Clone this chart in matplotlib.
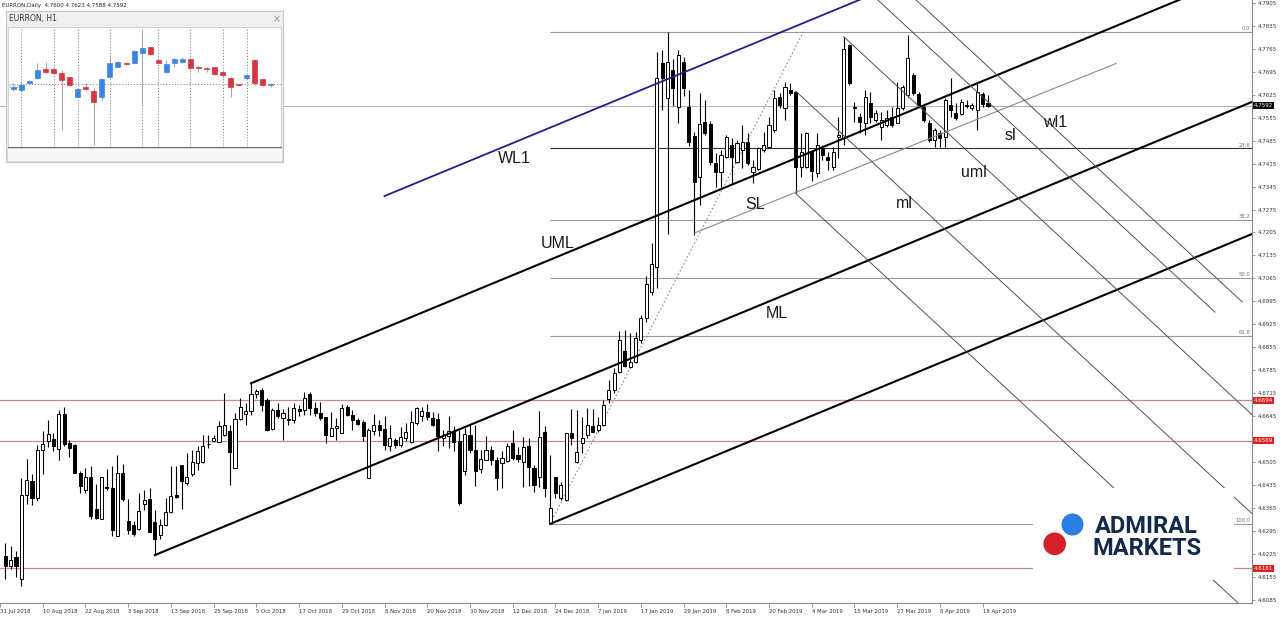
import numpy as np
import matplotlib.pyplot as plt
import matplotlib.transforms as mtransforms
from matplotlib.patches import Circle, Rectangle

# EURRON daily candles, bar 1 = 1 Aug 2018 (bar 0 = 31 Jul 2018)
opens = [
    4.6218, 4.6188, 4.6216, 4.6149, 4.6403, 4.6446, 4.6396, 4.6543, 4.6570, 4.6575,
    4.6545, 4.6652, 4.6563, 4.6558, 4.6472, 4.6421, 4.6459, 4.6362, 4.6332, 4.6429,
    4.6426, 4.6279, 4.6470, 4.6325, 4.6314, 4.6302, 4.6378, 4.6391, 4.6322, 4.6282,
    4.6312, 4.6352, 4.6403, 4.6495, 4.6441, 4.6467, 4.6502, 4.6504, 4.6559, 4.6568,
    4.6565, 4.6588, 4.6601, 4.6487, 4.6636, 4.6652, 4.6662, 4.6712, 4.6725, 4.6695,
    4.6605, 4.6664, 4.6639, 4.6637, 4.6634, 4.6666, 4.6664, 4.6713, 4.6669, 4.6654,
    4.6641, 4.6585, 4.6609, 4.6593, 4.6674, 4.6649, 4.6634, 4.6626, 4.6456, 4.6598,
    4.6619, 4.6605, 4.6553, 4.6573, 4.6558, 4.6578, 4.6565, 4.6624, 4.6644, 4.6656,
    4.6639, 4.6636, 4.6578, 4.6583, 4.6601, 4.6568, 4.6477, 4.6588, 4.6541, 4.6484,
    4.6512, 4.6541, 4.6510, 4.6501, 4.6509, 4.6562, 4.6526, 4.6506, 4.6554, 4.6486,
    4.6460, 4.6597, 4.6318, 4.6460, 4.6394, 4.6389, 4.6594, 4.6506, 4.6562, 4.6587,
    4.6615, 4.6602, 4.6618, 4.6696, 4.6724, 4.6780, 4.6844, 4.6796, 4.6811, 4.6877,
    4.6943, 4.7024, 4.7101, 4.7723, 4.7614, 4.7701, 4.7589, 4.7726, 4.7589, 4.7499,
    4.7375, 4.7543, 4.7536, 4.7418, 4.7390, 4.7436, 4.7472, 4.7421, 4.7456, 4.7482,
    4.7390, 4.7398, 4.7456, 4.7467, 4.7517, 4.7619, 4.7584, 4.7640, 4.7634, 4.7406,
    4.7406, 4.7451, 4.7385, 4.7462, 4.7436, 4.7406, 4.7497, 4.7492, 4.7777, 4.7584,
    4.7558, 4.7538, 4.7599, 4.7548, 4.7526, 4.7533, 4.7558, 4.7538, 4.7584, 4.7624,
    4.7685, 4.7627, 4.7589, 4.7540, 4.7487, 4.7507, 4.7497, 4.7594, 4.7568, 4.7566,
    4.7591, 4.7584, 4.7579, 4.7627, 4.7600,
]
highs = [
    4.6259, 4.6249, 4.6233, 4.6456, 4.6514, 4.6467, 4.6558, 4.6601, 4.6632, 4.6593,
    4.6664, 4.6672, 4.6571, 4.6561, 4.6477, 4.6487, 4.6492, 4.6439, 4.6459, 4.6484,
    4.6494, 4.6527, 4.6500, 4.6393, 4.6325, 4.6411, 4.6419, 4.6426, 4.6360, 4.6330,
    4.6396, 4.6492, 4.6492, 4.6497, 4.6533, 4.6543, 4.6553, 4.6588, 4.6588, 4.6588,
    4.6629, 4.6715, 4.6619, 4.6654, 4.6700, 4.6685, 4.6745, 4.6728, 4.6730, 4.6700,
    4.6669, 4.6685, 4.6666, 4.6674, 4.6685, 4.6680, 4.6717, 4.6717, 4.6687, 4.6687,
    4.6641, 4.6656, 4.6639, 4.6683, 4.6680, 4.6664, 4.6639, 4.6634, 4.6609, 4.6652,
    4.6634, 4.6644, 4.6619, 4.6578, 4.6612, 4.6624, 4.6659, 4.6674, 4.6672, 4.6683,
    4.6656, 4.6654, 4.6603, 4.6644, 4.6614, 4.6603, 4.6609, 4.6619, 4.6619, 4.6543,
    4.6583, 4.6553, 4.6521, 4.6539, 4.6564, 4.6602, 4.6552, 4.6580, 4.6577, 4.6496,
    4.6661, 4.6615, 4.6526, 4.6460, 4.6445, 4.6594, 4.6666, 4.6664, 4.6643, 4.6669,
    4.6666, 4.6643, 4.6694, 4.6755, 4.6791, 4.6905, 4.6908, 4.6899, 4.6902, 4.6953,
    4.7072, 4.7172, 4.7756, 4.7760, 4.7817, 4.7735, 4.7761, 4.7740, 4.7640, 4.7510,
    4.7629, 4.7609, 4.7546, 4.7446, 4.7456, 4.7502, 4.7492, 4.7487, 4.7533, 4.7507,
    4.7426, 4.7467, 4.7512, 4.7558, 4.7640, 4.7629, 4.7665, 4.7660, 4.7636, 4.7507,
    4.7512, 4.7451, 4.7507, 4.7472, 4.7451, 4.7467, 4.7558, 4.7802, 4.7780, 4.7604,
    4.7568, 4.7640, 4.7634, 4.7578, 4.7573, 4.7578, 4.7589, 4.7665, 4.7655, 4.7807,
    4.7690, 4.7634, 4.7594, 4.7548, 4.7523, 4.7517, 4.7614, 4.7675, 4.7599, 4.7611,
    4.7609, 4.7601, 4.7664, 4.7632, 4.7623,
]
lows = [
    4.6149, 4.6178, 4.6155, 4.6127, 4.6378, 4.6375, 4.6385, 4.6467, 4.6551, 4.6538,
    4.6510, 4.6555, 4.6520, 4.6470, 4.6409, 4.6409, 4.6330, 4.6330, 4.6332, 4.6419,
    4.6279, 4.6279, 4.6385, 4.6284, 4.6279, 4.6299, 4.6360, 4.6291, 4.6221, 4.6269,
    4.6309, 4.6348, 4.6396, 4.6362, 4.6436, 4.6462, 4.6482, 4.6502, 4.6548, 4.6565,
    4.6565, 4.6583, 4.6436, 4.6487, 4.6634, 4.6619, 4.6649, 4.6700, 4.6659, 4.6601,
    4.6603, 4.6639, 4.6571, 4.6619, 4.6624, 4.6644, 4.6649, 4.6649, 4.6644, 4.6634,
    4.6563, 4.6583, 4.6571, 4.6593, 4.6644, 4.6603, 4.6619, 4.6568, 4.6456, 4.6588,
    4.6583, 4.6543, 4.6538, 4.6548, 4.6551, 4.6568, 4.6563, 4.6619, 4.6629, 4.6634,
    4.6614, 4.6538, 4.6553, 4.6548, 4.6538, 4.6375, 4.6464, 4.6533, 4.6433, 4.6472,
    4.6510, 4.6497, 4.6419, 4.6425, 4.6505, 4.6511, 4.6506, 4.6430, 4.6432, 4.6414,
    4.6430, 4.6399, 4.6316, 4.6394, 4.6389, 4.6387, 4.6557, 4.6503, 4.6531, 4.6577,
    4.6594, 4.6597, 4.6615, 4.6684, 4.6714, 4.6775, 4.6794, 4.6791, 4.6806, 4.6867,
    4.6933, 4.7014, 4.7035, 4.7578, 4.7200, 4.7590, 4.7538, 4.7620, 4.7470, 4.7197,
    4.7289, 4.7502, 4.7410, 4.7345, 4.7345, 4.7431, 4.7355, 4.7416, 4.7401, 4.7411,
    4.7355, 4.7395, 4.7451, 4.7462, 4.7512, 4.7584, 4.7548, 4.7625, 4.7324, 4.7375,
    4.7401, 4.7363, 4.7375, 4.7426, 4.7395, 4.7395, 4.7431, 4.7472, 4.7655, 4.7543,
    4.7507, 4.7502, 4.7538, 4.7543, 4.7487, 4.7528, 4.7528, 4.7538, 4.7579, 4.7619,
    4.7624, 4.7589, 4.7543, 4.7482, 4.7467, 4.7467, 4.7467, 4.7558, 4.7548, 4.7563,
    4.7584, 4.7579, 4.7518, 4.7589, 4.7588,
]
closes = [
    4.6188, 4.6206, 4.6188, 4.6403, 4.6449, 4.6396, 4.6543, 4.6561, 4.6590, 4.6553,
    4.6652, 4.6561, 4.6548, 4.6472, 4.6431, 4.6459, 4.6340, 4.6335, 4.6459, 4.6427,
    4.6299, 4.6472, 4.6391, 4.6299, 4.6284, 4.6355, 4.6388, 4.6292, 4.6269, 4.6312,
    4.6353, 4.6401, 4.6398, 4.6446, 4.6459, 4.6504, 4.6538, 4.6555, 4.6561, 4.6578,
    4.6614, 4.6619, 4.6535, 4.6636, 4.6674, 4.6661, 4.6713, 4.6722, 4.6680, 4.6603,
    4.6664, 4.6644, 4.6654, 4.6634, 4.6669, 4.6659, 4.6700, 4.6669, 4.6654, 4.6639,
    4.6588, 4.6609, 4.6616, 4.6669, 4.6649, 4.6634, 4.6622, 4.6583, 4.6603, 4.6619,
    4.6603, 4.6558, 4.6578, 4.6558, 4.6581, 4.6595, 4.6626, 4.6669, 4.6659, 4.6642,
    4.6619, 4.6585, 4.6588, 4.6598, 4.6565, 4.6380, 4.6591, 4.6541, 4.6477, 4.6514,
    4.6543, 4.6510, 4.6455, 4.6516, 4.6554, 4.6516, 4.6513, 4.6550, 4.6491, 4.6435,
    4.6582, 4.6425, 4.6364, 4.6409, 4.6435, 4.6592, 4.6577, 4.6536, 4.6577, 4.6618,
    4.6597, 4.6618, 4.6679, 4.6724, 4.6775, 4.6877, 4.6798, 4.6811, 4.6882, 4.6943,
    4.7048, 4.7109, 4.7675, 4.7675, 4.7726, 4.7645, 4.7746, 4.7645, 4.7482, 4.7360,
    4.7536, 4.7507, 4.7421, 4.7390, 4.7441, 4.7495, 4.7436, 4.7479, 4.7482, 4.7416,
    4.7406, 4.7462, 4.7472, 4.7533, 4.7614, 4.7594, 4.7650, 4.7631, 4.7406, 4.7451,
    4.7509, 4.7393, 4.7472, 4.7441, 4.7426, 4.7451, 4.7502, 4.7764, 4.7660, 4.7587,
    4.7543, 4.7619, 4.7558, 4.7570, 4.7548, 4.7553, 4.7533, 4.7584, 4.7650, 4.7736,
    4.7629, 4.7594, 4.7548, 4.7487, 4.7517, 4.7492, 4.7609, 4.7579, 4.7553, 4.7604,
    4.7594, 4.7594, 4.7633, 4.7597, 4.7592,
]
first_bar = 1

date_labels = ["31 Jul 2018", "10 Aug 2018", "22 Aug 2018", "3 Sep 2018", "13 Sep 2018",
               "25 Sep 2018", "5 Oct 2018", "17 Oct 2018", "29 Oct 2018", "8 Nov 2018",
               "20 Nov 2018", "30 Nov 2018", "12 Dec 2018", "24 Dec 2018", "7 Jan 2019",
               "17 Jan 2019", "29 Jan 2019", "8 Feb 2019", "20 Feb 2019", "4 Mar 2019",
               "15 Mar 2019", "27 Mar 2019", "8 Apr 2019", "18 Apr 2019"]
label_step = 8

price_ticks = np.round(np.arange(4.6085, 4.7906, 0.007), 4)
red_levels = [4.6694, 4.6569, 4.6181]

# fibonacci retracement
fib_low, fib_high = 4.6316, 4.7816
fib_ratios = [0.0, 23.6, 38.2, 50.0, 61.8, 100.0]
fib_bar_start, fib_bar_end = 103, 150.4

# andrews pitchfork pivots (bar, price)
pf_bars = [29, 47, 103]
pf_prices = [4.6221, 4.6745, 4.6316]
wl1_start = 72
sl_bar, sl_price, sl_slope, sl_end = 130, 4.7203, 0.000655, 209

# descending lines (start bar, start price, end bar)
desc_slope = -0.001508
desc_start_bars = [149, 149, 158, 160, 160]
desc_start_prices = [4.7636, 4.7324, 4.7802, 4.7980, 4.8088]
desc_end_bars = [236, 236, 236, 227.5, 232.6]

# H1 inset window
h1_open = [4.75854, 4.7585, 4.7589, 4.7592, 4.75976, 4.75974, 4.75954, 4.75926, 4.7581, 4.75866,
           4.75846, 4.75806, 4.75926, 4.7599, 4.76014, 4.76014, 4.76074, 4.76106, 4.7603, 4.7596,
           4.76014, 4.76018, 4.76034, 4.7599, 4.75982, 4.75986, 4.7596, 4.7592, 4.75886, 4.75922,
           4.7603, 4.75914, 4.75882]
h1_high = [4.7589, 4.7590, 4.7591, 4.76014, 4.7602, 4.7599, 4.7597, 4.75926, 4.75858, 4.7589,
           4.7586, 4.7592, 4.7606, 4.76024, 4.76018, 4.7609, 4.7621, 4.7611, 4.76034, 4.7603,
           4.7604, 4.76046, 4.7604, 4.7600, 4.7599, 4.7599, 4.7597, 4.75926, 4.75886, 4.75942,
           4.76034, 4.75918, 4.7589]
h1_low = [4.75846, 4.75846, 4.75886, 4.75914, 4.7595, 4.7594, 4.7561, 4.75874, 4.75806, 4.75846,
          4.7552, 4.7579, 4.7592, 4.75986, 4.7600, 4.7601, 4.7576, 4.7606, 4.7601, 4.75954,
          4.7599, 4.7601, 4.75974, 4.7596, 4.7596, 4.7594, 4.75926, 4.7581, 4.75874, 4.75918,
          4.7588, 4.75874, 4.75866]
h1_close = [4.75866, 4.7588, 4.75906, 4.7597, 4.7596, 4.7595, 4.7591, 4.75878, 4.75854, 4.75854,
            4.7578, 4.75916, 4.76014, 4.7602, 4.76004, 4.76086, 4.7610, 4.76066, 4.76014, 4.76006,
            4.76034, 4.76034, 4.7598, 4.75984, 4.75974, 4.75946, 4.7594, 4.75866, 4.75878, 4.75938,
            4.7589, 4.75878, 4.75886]
h1_separators = [1, 5, 8, 12, 16, 18, 22, 26, 29]

W, H = 1280, 617
fig = plt.figure(figsize=(W / 100, H / 100), dpi=100)


def px_box(x0, y0, x1, y1):
    # pixel box (origin top-left) -> figure fraction rect
    return [x0 / W, 1 - y1 / H, (x1 - x0) / W, (y1 - y0) / H]


ax = fig.add_axes(px_box(0, 0, 1252, 603))
ax.set_xlim(0.206, 234.44)
ax.set_ylim(4.60749, 4.79140)

# horizontal levels
for lv in red_levels:
    ax.axhline(lv, color="#c98c8c", lw=0.9, zorder=1)
ax.axhline(closes[-1], color="#b4b4b4", lw=0.8, zorder=1)

yright = mtransforms.blended_transform_factory(ax.transAxes, ax.transData)
for r in fib_ratios:
    lvl = fib_high - r / 100 * (fib_high - fib_low)
    col = "#303030" if r == 23.6 else "#9a9a9a"
    ax.hlines(lvl, fib_bar_start, 240, color=col, lw=0.8, zorder=1.5)
    ax.text(0.9985, lvl + 0.0002, f"{r:.1f}", transform=yright, ha="right", va="bottom",
            fontsize=3.8, color="#707070")
ax.plot([fib_bar_start, fib_bar_end], [fib_low, fib_high], color="#8a8a8a", lw=0.8,
        ls=(0, (1.5, 2)), zorder=1.5)

# candles
x = np.arange(len(opens)) + first_bar
o, h, l, c = map(np.array, (opens, highs, lows, closes))
up = c >= o
ax.vlines(x, l, h, color="black", lw=0.8, zorder=3)
ax.bar(x, np.maximum(np.abs(c - o), 0.00004), 0.58, bottom=np.minimum(o, c),
       color=np.where(up, "white", "black"), edgecolor="black", linewidth=0.7, zorder=4)

# pitchfork
xe = 240
mid_bar = (pf_bars[1] + pf_bars[2]) / 2
mid_price = (pf_prices[1] + pf_prices[2]) / 2
slope = (mid_price - pf_prices[0]) / (mid_bar - pf_bars[0])
for b, p in zip(pf_bars, pf_prices):
    ax.plot([b, xe], [p, p + slope * (xe - b)], color="black", lw=1.5, zorder=5)
fork_width = pf_prices[1] - (pf_prices[0] + slope * (pf_bars[1] - pf_bars[0]))
wl_p = pf_prices[1] + slope * (wl1_start - pf_bars[1]) + fork_width
ax.plot([wl1_start, xe], [wl_p, wl_p + slope * (xe - wl1_start)], color="#20208c", lw=1.3, zorder=5)
ax.plot([sl_bar, sl_end], [sl_price, sl_price + sl_slope * (sl_end - sl_bar)],
        color="#8c8c8c", lw=0.8, zorder=5)

for b0, p0, b1 in zip(desc_start_bars, desc_start_prices, desc_end_bars):
    ax.plot([b0, b1], [p0, p0 + desc_slope * (b1 - b0)], color="#505050", lw=0.7, zorder=5)

lab = dict(fontsize=11.5, family="Liberation Sans", color="#1a1a1a", ha="left", va="baseline", zorder=6)
ax.text(93.2, 4.7417, "WL1", **lab)
ax.text(101.2, 4.7158, "UML", **lab)
ax.text(143.3, 4.6944, "ML", **lab)
ax.text(139.6, 4.7277, "SL", **lab)
ax.text(167.7, 4.7280, "ml", **lab)
ax.text(180.0, 4.7374, "uml", **lab)
ax.text(188.2, 4.7487, "sl", **lab)
ax.text(195.3, 4.7527, "wl1", **lab)

# axes look
for s in ["top", "left"]:
    ax.spines[s].set_visible(False)
for s in ["right", "bottom"]:
    ax.spines[s].set_color("#8a8a8a")
    ax.spines[s].set_linewidth(0.8)
ax.yaxis.tick_right()
ax.set_yticks(price_ticks)
boxed = red_levels + [closes[-1]]
# tick labels hidden behind a price box are left out
ax.set_yticklabels(["" if min(abs(v - b) for b in boxed) < 0.001 else f"{v:.4f}" for v in price_ticks])
ax.tick_params(axis="y", direction="out", length=2.5, width=0.6, colors="#8a8a8a",
               labelcolor="#333333", labelsize=4, pad=1.5)
ax.set_xticks(np.arange(len(date_labels)) * label_step)
ax.set_xticklabels(date_labels, ha="left")
ax.tick_params(axis="x", direction="out", length=3, width=0.6, colors="#8a8a8a",
               labelcolor="#333333", labelsize=3.9, pad=1.2)

box_kw = dict(transform=yright, ha="left", va="center", fontsize=4, color="white",
              clip_on=False, zorder=10)
for lv in red_levels:
    ax.text(1.0015, lv, f"{lv:.4f}", bbox=dict(boxstyle="square,pad=0.18", fc="#e0201e", ec="none"), **box_kw)
ax.text(1.0015, closes[-1], f"{closes[-1]:.4f}", bbox=dict(boxstyle="square,pad=0.18", fc="black", ec="none"), **box_kw)

fig.text(2 / W, 1 - 5 / H, f"EURRON,Daily  {opens[-1]:.4f} {highs[-1]:.4f} {lows[-1]:.4f} {closes[-1]:.4f}",
         fontsize=4, va="center", ha="left", color="#222222")

# inset H1 window
frame = fig.add_axes(px_box(6, 11, 283, 162), zorder=5)
frame.set_facecolor("#f0f0f0")
frame.set_xlim(0, 277)
frame.set_ylim(151, 0)
frame.set_xticks([])
frame.set_yticks([])
for s in frame.spines.values():
    s.set_color("#c8c8c8")
frame.add_patch(Rectangle((1, 137), 275, 13, fc="#f8f8f8", ec="#d8d8d8", lw=0.6))
frame.text(3, 8, "EURRON, H1", fontsize=5.5, color="#333333", va="center", ha="left")
frame.text(271, 8, "\u00d7", fontsize=7, color="#9a9a9a", va="center", ha="center")

inset = fig.add_axes(px_box(8, 27, 281, 147), zorder=6)
inset.set_facecolor("white")
inset.set_xlim(-0.66, 33.25)
inset.set_ylim(4.75508, 4.76228)
inset.set_xticks([])
inset.set_yticks([])
for s in ["top", "left", "right"]:
    inset.spines[s].set_color("#d4d4d4")
inset.spines["bottom"].set_color("#707070")
inset.vlines(h1_separators, 4.75508, 4.76228, color="#8a8a8a", lw=0.7, ls=(0, (1.2, 1.8)))
inset.axhline(h1_close[-1], color="#8a8a8a", lw=0.7, ls=(0, (1.2, 1.8)))
inset.text(-0.5, h1_close[-1] - 0.00003, f"{h1_close[-1]:.4f}", fontsize=3, color="#a8a8a8", va="top")
xi = np.arange(len(h1_open))
io, ih, il, ic = map(np.array, (h1_open, h1_high, h1_low, h1_close))
iup = ic >= io
inset.vlines(xi, il, ih, color="#a8a8a8", lw=0.8, zorder=2)
icol = np.where(iup, "#3a86e8", "#d9343f")
inset.bar(xi, np.maximum(np.abs(ic - io), 0.00002), 0.62, bottom=np.minimum(io, ic),
          color=icol, edgecolor=icol, linewidth=0.5, zorder=3)

# logo
logo = fig.add_axes(px_box(1033, 488, 1234, 580), zorder=5)
logo.set_facecolor("white")
logo.set_xlim(0, 201)
logo.set_ylim(92, 0)
logo.set_xticks([])
logo.set_yticks([])
for s in logo.spines.values():
    s.set_visible(False)
logo.add_patch(Circle((39.5, 36.5), 11, fc="#2b7fe2", ec="none"))
logo.add_patch(Circle((21.7, 55.8), 11.3, fc="#d4202c", ec="none"))
logo.text(62, 45.3, "ADMIRAL", fontsize=17, family="Roboto", weight="bold", color="#13294b",
          ha="left", va="baseline")
logo.text(60, 67, "MARKETS", fontsize=17, family="Roboto", weight="bold", color="#13294b",
          ha="left", va="baseline")

fig.savefig("out.png", dpi=100, facecolor="white")
